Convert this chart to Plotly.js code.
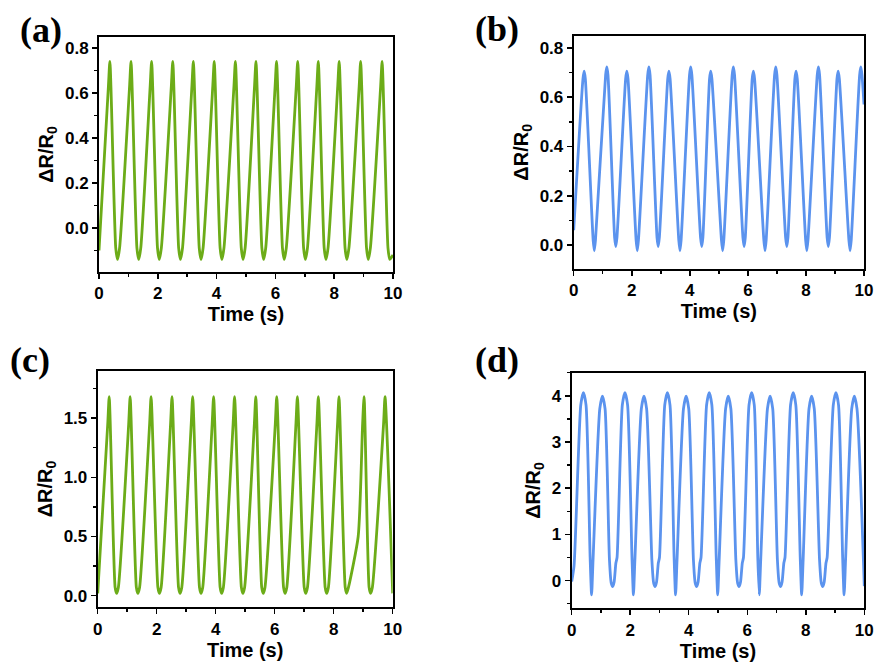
<!DOCTYPE html>
<html><head><meta charset="utf-8">
<script src="https://cdn.plot.ly/plotly-3.0.1.min.js"></script>
<style>html,body{margin:0;padding:0;background:#fff}#chart{width:879px;height:668px}</style>
</head><body><div id="chart"></div>
<script>
// ---------- Panel (a) ----------
const aPeakT = [0.37,1.09,1.79,2.51,3.21,3.92,4.64,5.34,6.04,6.76,7.46,8.17,8.90,9.63];
const aPeakY = [0.74,0.74,0.74,0.74,0.74,0.74,0.74,0.74,0.74,0.74,0.74,0.74,0.74,0.74];
const aTroughT = [0.63,1.35,2.05,2.77,3.47,4.18,4.90,5.60,6.30,7.02,7.72,8.43,9.16,9.89];
const aTroughY = [-0.14,-0.14,-0.14,-0.14,-0.14,-0.14,-0.14,-0.14,-0.14,-0.14,-0.14,-0.14,-0.14,-0.14];
const aKneeT = [0,0.32,0.57,0.70,1.04,1.29,1.42,1.74,1.99,2.12,2.46,2.71,2.84,3.16,3.41,3.54,3.87,4.12,4.25,4.59,4.84,4.97,5.29,5.54,5.67,5.99,6.24,6.37,6.71,6.96,7.09,7.41,7.66,7.79,8.12,8.37,8.50,8.85,9.10,9.23,9.58,9.83,10];
const aKneeY = [-0.10,0.63,-0.09,-0.09,0.63,-0.09,-0.09,0.63,-0.09,-0.09,0.63,-0.09,-0.09,0.63,-0.09,-0.09,0.63,-0.09,-0.09,0.63,-0.09,-0.09,0.63,-0.09,-0.09,0.63,-0.09,-0.09,0.63,-0.09,-0.09,0.63,-0.09,-0.09,0.63,-0.09,-0.09,0.63,-0.09,-0.09,0.63,-0.09,-0.12];

// ---------- Panel (b) ----------
const bPeakT = [0.36,1.14,1.83,2.59,3.28,4.03,4.72,5.50,6.19,6.96,7.66,8.43,9.11,9.89];
const bPeakY = [0.705,0.722,0.705,0.722,0.705,0.722,0.705,0.722,0.705,0.722,0.705,0.722,0.705,0.722];
const bTroughT = [0.71,1.45,2.19,2.91,3.66,4.41,5.13,5.87,6.59,7.34,8.03,8.77,9.52];
const bTroughY = [-0.023,-0.006,-0.023,-0.006,-0.023,-0.006,-0.023,-0.006,-0.023,-0.006,-0.023,-0.006,-0.023];
const bKneeT = [0,0.32,0.40,0.67,0.75,1.10,1.18,1.41,1.49,1.79,1.87,2.15,2.23,2.55,2.63,2.87,2.95,3.24,3.32,3.62,3.70,3.99,4.07,4.37,4.45,4.68,4.76,5.09,5.17,5.46,5.54,5.83,5.91,6.15,6.23,6.55,6.63,6.92,7.00,7.30,7.38,7.62,7.70,7.99,8.07,8.39,8.47,8.73,8.81,9.07,9.15,9.48,9.56,9.85,9.93,10];
const bKneeY = [0.06,0.675,0.675,0.02,0.02,0.69,0.69,0.03,0.03,0.675,0.675,0.02,0.02,0.69,0.69,0.03,0.03,0.675,0.675,0.02,0.02,0.69,0.69,0.03,0.03,0.675,0.675,0.02,0.02,0.69,0.69,0.03,0.03,0.675,0.675,0.02,0.02,0.69,0.69,0.03,0.03,0.675,0.675,0.02,0.02,0.69,0.69,0.03,0.03,0.675,0.675,0.02,0.02,0.69,0.69,0.57];

// ---------- Panel (c) ----------
const cPeakT = [0.39,1.10,1.81,2.52,3.22,3.93,4.64,5.36,6.07,6.77,7.48,8.18,9.03,9.74];
const cPeakY = [1.68,1.68,1.68,1.68,1.68,1.68,1.68,1.68,1.68,1.68,1.68,1.68,1.68,1.68];
const cTroughT = [0.64,1.36,2.09,2.79,3.50,4.20,4.92,5.61,6.35,7.05,7.76,8.44,9.25];
const cTroughY = [0.02,0.02,0.02,0.02,0.02,0.02,0.02,0.02,0.02,0.02,0.02,0.02,0.02];
const cKneeT = [0,0.34,0.59,0.70,1.05,1.31,1.42,1.76,2.04,2.15,2.47,2.74,2.85,3.17,3.45,3.56,3.88,4.15,4.26,4.59,4.87,4.98,5.31,5.56,5.67,6.02,6.30,6.41,6.72,7.00,7.11,7.43,7.71,7.82,8.13,8.39,8.50,8.83,8.98,9.20,9.31,9.69,10];
const cKneeY = [0.02,1.45,0.07,0.07,1.45,0.07,0.07,1.45,0.07,0.07,1.45,0.07,0.07,1.45,0.07,0.07,1.45,0.07,0.07,1.45,0.07,0.07,1.45,0.07,0.07,1.45,0.07,0.07,1.45,0.07,0.07,1.45,0.07,0.07,1.45,0.07,0.07,0.50,1.45,0.07,0.07,1.45,0.02];

// ---------- Panel (d) ----------
const dPeakT = [0.40,1.05,1.82,2.47,3.27,3.91,4.70,5.35,6.15,6.78,7.57,8.20,9.03,9.66];
const dPeakY = [4.07,3.99,4.07,3.99,4.07,3.99,4.07,3.99,4.07,3.99,4.07,3.99,4.07,3.99];
const dTroughT = [0.68,1.40,2.11,2.85,3.55,4.27,4.99,5.72,6.41,7.14,7.86,8.58,9.31];
const dTroughY = [-0.31,-0.13,-0.31,-0.13,-0.31,-0.13,-0.31,-0.13,-0.31,-0.13,-0.31,-0.13,-0.31];
const dCapT = [0.31,0.49,0.96,1.14,1.73,1.91,2.38,2.56,3.18,3.36,3.82,4.00,4.61,4.79,5.26,5.44,6.06,6.24,6.69,6.87,7.48,7.66,8.11,8.29,8.94,9.12,9.57,9.75];
const dCapY = [3.80,3.80,3.72,3.72,3.80,3.80,3.72,3.72,3.80,3.80,3.72,3.72,3.80,3.80,3.72,3.72,3.80,3.80,3.72,3.72,3.80,3.80,3.72,3.72,3.80,3.80,3.72,3.72];
const dKneeT = [0,0.08,0.63,0.73,1.29,1.35,1.45,1.51,1.55,2.06,2.16,2.74,2.80,2.90,2.96,3.00,3.50,3.60,4.16,4.22,4.32,4.38,4.42,4.94,5.04,5.61,5.67,5.77,5.83,5.87,6.36,6.46,7.03,7.09,7.19,7.25,7.29,7.81,7.91,8.47,8.53,8.63,8.69,8.73,9.26,9.36,10];
const dKneeY = [-0.02,0.32,0.50,0.45,0.45,-0.05,-0.03,0.38,0.50,0.50,0.45,0.45,-0.05,-0.03,0.38,0.50,0.50,0.45,0.45,-0.05,-0.03,0.38,0.50,0.50,0.45,0.45,-0.05,-0.03,0.38,0.50,0.50,0.45,0.45,-0.05,-0.03,0.38,0.50,0.50,0.45,0.45,-0.05,-0.03,0.38,0.50,0.50,0.45,-0.12];

const xTickVals = [0,2,4,6,8,10];
const panelLabels = ['(a)','(b)','(c)','(d)'];

function series(list){
  const pts=[];
  for(let i=0;i<list.length;i+=2){
    const T=list[i], Y=list[i+1];
    T.forEach((t,j)=>pts.push([t,Y[j]]));
  }
  pts.sort((p,q)=>p[0]-q[0]);
  return {x:pts.map(p=>p[0]), y:pts.map(p=>p[1])};
}

const GREEN='#6cac18', BLUE='#5b93ee';
const sA=series([aPeakT,aPeakY,aTroughT,aTroughY,aKneeT,aKneeY]);
const sB=series([bPeakT,bPeakY,bTroughT,bTroughY,bKneeT,bKneeY]);
const sC=series([cPeakT,cPeakY,cTroughT,cTroughY,cKneeT,cKneeY]);
const sD=series([dPeakT,dPeakY,dTroughT,dTroughY,dCapT,dCapY,dKneeT,dKneeY]);

function tr(s,color,xa,ya){
  return {x:s.x,y:s.y,type:'scatter',mode:'lines',xaxis:xa,yaxis:ya,
    line:{color:color,width:2.8,shape:'spline',smoothing:0.6},showlegend:false,hoverinfo:'skip'};
}
const data=[tr(sA,GREEN,'x','y'),tr(sB,BLUE,'x2','y2'),tr(sC,GREEN,'x3','y3'),tr(sD,BLUE,'x4','y4')];

const FONT='Liberation Sans, Arial, sans-serif';
const W=879,H=668;
function xax(l,r,anchor){
  return {domain:[l/W,r/W],anchor:anchor,range:[0,10],tickvals:xTickVals,
    showline:true,linecolor:'#000',linewidth:2,mirror:true,ticks:'outside',ticklen:5,tickwidth:1.5,tickcolor:'#000',
    minor:{dtick:1,tick0:0,ticks:'outside',ticklen:3,tickwidth:1.5,tickcolor:'#000'},
    showgrid:false,zeroline:false,
    tickfont:{family:FONT,size:17,color:'#000',weight:'bold'},
    title:{text:'Time (s)',font:{family:FONT,size:20,color:'#000',weight:'bold'},standoff:4}};
}
function yax(top,bot,anchor,range,dtick,minor,fmt){
  return {domain:[1-bot/H,1-top/H],anchor:anchor,range:range,dtick:dtick,tick0:0,tickformat:fmt,
    showline:true,linecolor:'#000',linewidth:2,mirror:true,ticks:'outside',ticklen:5,tickwidth:1.5,tickcolor:'#000',
    minor:{dtick:minor,tick0:0,ticks:'outside',ticklen:3,tickwidth:1.5,tickcolor:'#000'},
    showgrid:false,zeroline:false,
    tickfont:{family:FONT,size:17,color:'#000',weight:'bold'},
    title:{text:'ΔR/R<sub>0</sub>',font:{family:FONT,size:20,color:'#000',weight:'bold'},standoff:6}};
}
function lab(t,cx,cy){
  return {text:'<b>'+t+'</b>',xref:'paper',yref:'paper',x:cx/W,y:1-cy/H,xanchor:'center',yanchor:'middle',
    showarrow:false,font:{family:'Liberation Serif, Times New Roman, serif',size:36,color:'#000'}};
}
const layout={
  width:W,height:H,margin:{l:0,r:0,t:0,b:0},paper_bgcolor:'#fff',plot_bgcolor:'#fff',
  xaxis:xax(99,393,'y'), yaxis:yax(37,272,'x',[-0.196,0.849],0.2,0.1,'.1f'),
  xaxis2:xax(573.7,864,'y2'), yaxis2:yax(35.7,269,'x2',[-0.097,0.849],0.2,0.1,'.1f'),
  xaxis3:xax(97.7,392.7,'y3'), yaxis3:yax(370.7,607.3,'x3',[-0.098,1.9],0.5,0.25,'.1f'),
  xaxis4:xax(571.7,864.3,'y4'), yaxis4:yax(372.7,608.3,'x4',[-0.6,4.5],1,0.5,'d'),
  annotations:[lab(panelLabels[0],41,30),lab(panelLabels[1],497,29),lab(panelLabels[2],30,360),lab(panelLabels[3],497,360)]
};
Plotly.newPlot('chart',data,layout,{displayModeBar:false,staticPlot:true});
</script></body></html>
